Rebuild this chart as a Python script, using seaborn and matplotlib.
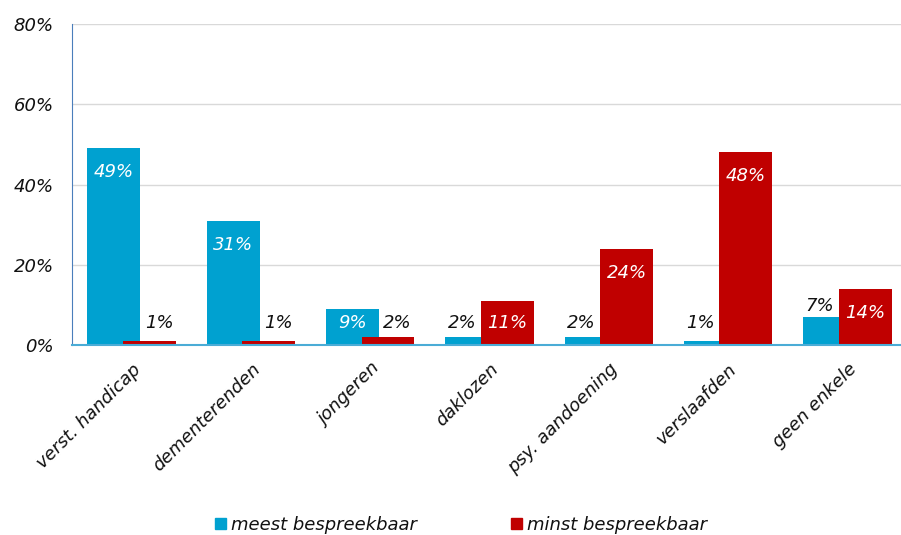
import pandas as pd
import matplotlib.pyplot as plt
import seaborn as sns

# values (%)
categories = ["verst. handicap", "dementerenden", "jongeren", "daklozen",
              "psy. aandoening", "verslaafden", "geen enkele"]
meest = [49, 31, 9, 2, 2, 1, 7]
minst = [1, 1, 2, 11, 24, 48, 14]
series = ["meest bespreekbaar", "minst bespreekbaar"]
colors = ["#00A1D0", "#C00000"]

data = pd.DataFrame({
    "categorie": categories * 2,
    "reeks": [series[0]] * len(categories) + [series[1]] * len(categories),
    "waarde": meest + minst,
})

sns.set_style("white")
plt.rcParams["font.family"] = ["DejaVu Sans"]
plt.rcParams["font.style"] = "italic"
plt.rcParams["text.color"] = "#111111"
plt.rcParams["xtick.color"] = "#111111"
plt.rcParams["ytick.color"] = "#111111"

fig = plt.figure(figsize=(9.01, 5.35), dpi=100)
ax = fig.add_axes([72 / 901, 190 / 535, 835 / 901, 321 / 535])

# bars partly overlap in the original: dodge narrow, then widen each bar
sns.barplot(data=data, x="categorie", y="waarde", hue="reeks",
            palette=colors, width=0.596, saturation=1, ax=ax, legend=False)
bar_w = 0.444
n = len(categories)
for p in ax.patches:
    cx = p.get_x() + p.get_width() / 2
    p.set_x(cx - bar_w / 2)
    p.set_width(bar_w)
    p.set_edgecolor("none")

# value labels: white inside tall bars, black above short ones (pushed outward)
for i, p in enumerate(ax.patches[:2 * n]):
    h = p.get_height()
    cx = p.get_x() + p.get_width() / 2
    if h >= 8:
        ax.annotate(f"{h:.0f}%", (cx, max(h - 6, 5.5)), ha="center", va="center",
                    color="white", fontsize=13, style="italic")
    else:
        dx = -7 if i < n else 7
        ax.annotate(f"{h:.0f}%", (cx, max(h + 2.7, 5.5)), xytext=(dx, 0),
                    textcoords="offset points", ha="center", va="center",
                    color="#111111", fontsize=13, style="italic")

ax.set_ylim(0, 80)
ax.set_xlim(-0.5, 6.5)
ax.set_yticks([0, 20, 40, 60, 80])
ax.set_yticklabels([f"{v}%" for v in [0, 20, 40, 60, 80]], fontsize=13, style="italic")
ax.yaxis.grid(True, color="#D9D9D9", linewidth=1)
ax.set_axisbelow(True)
ax.tick_params(axis="both", length=0)
ax.tick_params(axis="y", pad=13)
ax.set_xlabel("")
ax.set_ylabel("")
plt.setp(ax.get_xticklabels(), rotation=45, ha="right", rotation_mode="anchor",
         fontsize=13, style="italic")
ax.tick_params(axis="x", pad=11)

for side in ["top", "right"]:
    ax.spines[side].set_visible(False)
ax.spines["left"].set_color("#4A7EBB")
ax.spines["bottom"].set_color("#4BACD6")
ax.spines["bottom"].set_linewidth(1.5)

handles = [plt.Rectangle((0, 0), 1, 1, color=c) for c in colors]
fig.legend(handles, series, loc="center", bbox_to_anchor=(461 / 901, 1 - 525 / 535),
           ncol=2, frameon=False, fontsize=13, handlelength=0.6, handleheight=0.6,
           handletextpad=0.3, columnspacing=5.2)

fig.savefig("out.png", dpi=100)
